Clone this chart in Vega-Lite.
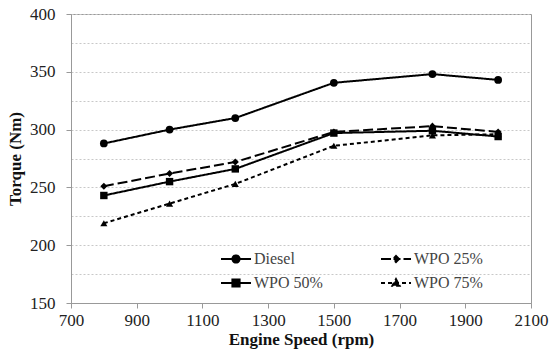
{
  "$schema": "https://vega.github.io/schema/vega-lite/v6.json",
  "width": 460,
  "height": 289,
  "autosize": {"type": "none"},
  "padding": {"left": 71, "top": 14, "right": 24, "bottom": 52},
  "background": "white",
  "config": {
    "view": {"stroke": "#999", "strokeWidth": 1},
    "font": "Liberation Serif",
    "axis": {
      "labelFont": "Liberation Serif",
      "titleFont": "Liberation Serif",
      "labelColor": "#222",
      "titleColor": "#111",
      "domainColor": "#999",
      "tickColor": "#999",
      "tickSize": 5,
      "labelFontSize": 17,
      "titleFontSize": 17,
      "titleFontWeight": "bold"
    }
  },
  "data": {
    "values": [
      {"Fuel": "Diesel", "Speed": 800, "Torque": 288},
      {"Fuel": "Diesel", "Speed": 1000, "Torque": 300},
      {"Fuel": "Diesel", "Speed": 1200, "Torque": 310},
      {"Fuel": "Diesel", "Speed": 1500, "Torque": 340.5},
      {"Fuel": "Diesel", "Speed": 1800, "Torque": 348},
      {"Fuel": "Diesel", "Speed": 2000, "Torque": 343},
      {"Fuel": "WPO 25%", "Speed": 800, "Torque": 251},
      {"Fuel": "WPO 25%", "Speed": 1000, "Torque": 262},
      {"Fuel": "WPO 25%", "Speed": 1200, "Torque": 272},
      {"Fuel": "WPO 25%", "Speed": 1500, "Torque": 298},
      {"Fuel": "WPO 25%", "Speed": 1800, "Torque": 303},
      {"Fuel": "WPO 25%", "Speed": 2000, "Torque": 298},
      {"Fuel": "WPO 50%", "Speed": 800, "Torque": 243},
      {"Fuel": "WPO 50%", "Speed": 1000, "Torque": 255},
      {"Fuel": "WPO 50%", "Speed": 1200, "Torque": 266},
      {"Fuel": "WPO 50%", "Speed": 1500, "Torque": 297},
      {"Fuel": "WPO 50%", "Speed": 1800, "Torque": 299},
      {"Fuel": "WPO 50%", "Speed": 2000, "Torque": 294},
      {"Fuel": "WPO 75%", "Speed": 800, "Torque": 219},
      {"Fuel": "WPO 75%", "Speed": 1000, "Torque": 236},
      {"Fuel": "WPO 75%", "Speed": 1200, "Torque": 253},
      {"Fuel": "WPO 75%", "Speed": 1500, "Torque": 286},
      {"Fuel": "WPO 75%", "Speed": 1800, "Torque": 295},
      {"Fuel": "WPO 75%", "Speed": 2000, "Torque": 296}
    ]
  },
  "encoding": {
    "x": {
      "field": "Speed",
      "type": "quantitative",
      "scale": {"domain": [700, 2100], "nice": false, "zero": false},
      "axis": {
        "values": [700, 900, 1100, 1300, 1500, 1700, 1900, 2100],
        "format": "d",
        "grid": false,
        "title": "Engine Speed (rpm)",
        "labelPadding": 4,
        "titlePadding": 3,
        "labelFlush": false
      }
    },
    "y": {
      "field": "Torque",
      "type": "quantitative",
      "scale": {"domain": [150, 400], "nice": false, "zero": false},
      "axis": {
        "values": [150, 175, 200, 225, 250, 275, 300, 325, 350, 375, 400],
        "labelExpr": "datum.value % 50 == 0 ? datum.label : ''",
        "tickOpacity": {"condition": {"test": "datum.value % 50 != 0", "value": 0}, "value": 1},
        "grid": true,
        "gridColor": "#c8c8c8",
        "gridDash": [2, 2],
        "title": "Torque (Nm)",
        "labelPadding": 11,
        "titlePadding": 5
      }
    }
  },
  "layer": [
    {
      "mark": {"type": "line", "color": "black", "strokeWidth": 2},
      "encoding": {
        "detail": {"field": "Fuel"},
        "strokeDash": {
          "field": "Fuel",
          "type": "nominal",
          "scale": {
            "domain": ["Diesel", "WPO 25%", "WPO 50%", "WPO 75%"],
            "range": [[1, 0], [10, 4], [1, 0], [4, 3]]
          },
          "legend": {
            "title": null,
            "orient": "none",
            "legendX": 149,
            "legendY": 229,
            "direction": "horizontal",
            "columns": 2,
            "columnPadding": 54,
            "rowPadding": 0,
            "symbolSize": 900,
            "symbolStrokeWidth": 2,
            "symbolStrokeColor": "black",
            "symbolFillColor": "black",
            "labelFont": "Liberation Serif",
            "labelFontSize": 16,
            "labelColor": "#444",
            "labelOffset": 2,
            "encode": {
              "symbols": {
                "update": {
                  "shape": {"signal": "datum.value == 'Diesel' ? 'M-1,0H1M0.24,0A0.24,0.24 0 1,1 -0.24,0A0.24,0.24 0 1,1 0.24,0Z' : datum.value == 'WPO 25%' ? 'M-1,0H0.3M0.5,0H1M0,-0.2L0.2,0L0,0.2L-0.2,0Z' : datum.value == 'WPO 50%' ? 'M-1,0H1M-0.24,-0.24H0.24V0.24H-0.24Z' : 'M-1,0H1M0,-0.26L0.24,0.18H-0.24Z'"},
                  "fill": {"value": "black"},
                  "stroke": {"value": "black"},
                  "strokeWidth": {"value": 2}
                }
              }
            }
          }
        }
      }
    },
    {
      "transform": [{"filter": "datum.Fuel == 'Diesel'"}],
      "mark": {"type": "point", "shape": "circle", "filled": true, "color": "black", "opacity": 1, "size": 60}
    },
    {
      "transform": [{"filter": "datum.Fuel == 'WPO 25%'"}],
      "mark": {"type": "point", "shape": "diamond", "filled": true, "color": "black", "opacity": 1, "size": 50}
    },
    {
      "transform": [{"filter": "datum.Fuel == 'WPO 50%'"}],
      "mark": {"type": "point", "shape": "square", "filled": true, "color": "black", "opacity": 1, "size": 55}
    },
    {
      "transform": [{"filter": "datum.Fuel == 'WPO 75%'"}],
      "mark": {"type": "point", "shape": "triangle-up", "filled": true, "color": "black", "opacity": 1, "size": 50}
    }
  ]
}
